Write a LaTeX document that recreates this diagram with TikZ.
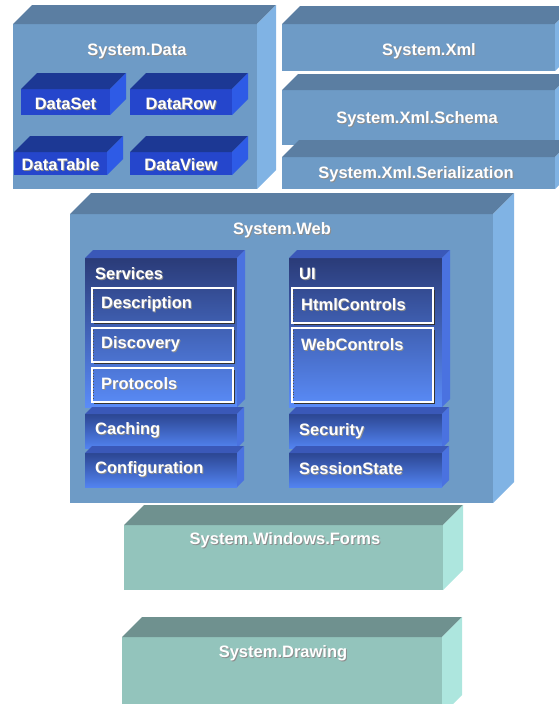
\documentclass[tikz,border=0pt]{standalone}
\usepackage{fontspec}
\setmainfont{Liberation Sans}

\definecolor{slate}{HTML}{6E9BC6}
\definecolor{slatetop}{HTML}{5B7EA2}
\definecolor{slateside}{HTML}{80B3E4}
\definecolor{royal}{HTML}{2546CC}
\definecolor{royaltop}{HTML}{1C3894}
\definecolor{royalside}{HTML}{2E5BE6}
\definecolor{navy}{HTML}{2A3B78}
\definecolor{sky}{HTML}{5A8CF8}
\definecolor{midblue}{HTML}{3A58B8}
\definecolor{sideblue}{HTML}{4A72E0}
\definecolor{barblue}{HTML}{2C4692}
\definecolor{barsky}{HTML}{5283F0}
\definecolor{seafront}{HTML}{93C4BC}
\definecolor{seatop}{HTML}{6F918F}
\definecolor{seaside}{HTML}{ADE6DE}

% 3D slab: front x1,y1,x2,y2 (pixels), depth, front style, top colour, side colour
\newcommand{\slab}[8]{%
  \path[#6] (#1,#2) rectangle (#3,#4);
  \fill[#7] (#1,#2) -- (#3,#2) -- (#3+#5,#2-#5) -- (#1+#5,#2-#5) -- cycle;
  \fill[#8] (#3,#2) -- (#3+#5,#2-#5) -- (#3+#5,#4-#5) -- (#3,#4) -- cycle;
}
% white framed sub-box with a dark shadow and dotted left edge
\newcommand{\subbox}[4]{%
  \draw[black!80,line width=1.2pt] (#1+2,#4+1.5) -- (#3+1.5,#4+1.5) -- (#3+1.5,#2+2);
  \draw[white,line width=1.6pt] (#1,#2) rectangle (#3,#4);
  \draw[black!70,dotted,line width=0.8pt] (#1+1.6,#2+2) -- (#1+1.6,#4-2);
}
% text with a soft drop shadow
\newcommand{\shd}[1]{\makebox[0pt][l]{\kern1pt\raisebox{-1pt}{\color{black!45}#1}}#1}

\tikzset{
  lbl/.style={text=white,inner sep=0pt,yshift=-2pt,font=\bfseries\fontsize{16.5}{18}\selectfont},
  lbll/.style={lbl,anchor=west}
}

\begin{document}
\begin{tikzpicture}[x=1pt,y=-1pt]
\useasboundingbox (0,0) rectangle (559,704);
\clip (0,0) rectangle (559,704);

% System.Data
\slab{13}{24}{257}{189}{19}{fill=slate}{slatetop}{slateside}
\node[lbl] (sysdata) at (137,50) {\shd{System.Data}};
\foreach \xa/\ya/\xb/\yb/\nm/\txt in {21/89/110/115/dset/DataSet,130/89/232/115/drow/DataRow,
    14/152/107/175/dtable/DataTable,130/152/232/175/dview/DataView} {
  \slab{\xa}{\ya}{\xb}{\yb}{16}{fill=royal}{royaltop}{royalside}
  \node[lbl] (\nm) at ({(\xa+\xb)/2},{(\ya+\yb)/2}) {\shd{\txt}};
}

% System.Xml stack
\slab{282}{24}{555}{71}{18}{fill=slate}{slatetop}{slateside}
\node[lbl] (sysxml) at (429,50) {\shd{System.Xml}};
\slab{282}{90}{555}{145}{16}{fill=slate}{slatetop}{slateside}
\node[lbl] (schema) at (417,118) {\shd{System.Xml.Schema}};
\slab{282}{157}{555}{189}{17}{fill=slate}{slatetop}{slateside}
\node[lbl] (serial) at (416,173) {\shd{System.Xml.Serialization}};

% System.Web
\slab{70}{214}{493}{503}{21}{fill=slate}{slatetop}{slateside}
\node[lbl] (sysweb) at (282,229) {\shd{System.Web}};

% Services and UI
\slab{85}{258}{237}{407}{8}{top color=navy,bottom color=sky}{midblue}{sideblue}
\node[lbll] (services) at (95,272) {\shd{Services}};
\subbox{92}{288}{233}{322}
\node[lbll] (descr) at (101,303) {\shd{Description}};
\subbox{92}{328}{233}{362}
\node[lbll] (discov) at (101,343) {\shd{Discovery}};
\subbox{92}{368}{233}{402}
\node[lbll] (protoc) at (101,382) {\shd{Protocols}};

\slab{289}{258}{442}{407}{8}{top color=navy,bottom color=sky}{midblue}{sideblue}
\node[lbll] (ui) at (299,272) {\shd{UI}};
\subbox{292}{288}{433}{323}
\node[lbll] (htmlc) at (301,303) {\shd{HtmlControls}};
\subbox{292}{328}{433}{402}
\node[lbll] (webc) at (301,343) {\shd{WebControls}};

% bars below
\slab{85}{414}{237}{448}{7}{top color=barblue,bottom color=barsky}{midblue}{sideblue}
\node[lbll] (caching) at (95,429) {\shd{Caching}};
\slab{85}{453}{237}{487}{7}{top color=barblue,bottom color=barsky}{midblue}{sideblue}
\node[lbll] (config) at (95,468) {\shd{Configuration}};
\slab{289}{414}{442}{448}{7}{top color=barblue,bottom color=barsky}{midblue}{sideblue}
\node[lbll] (security) at (299,430) {\shd{Security}};
\slab{289}{453}{442}{487}{7}{top color=barblue,bottom color=barsky}{midblue}{sideblue}
\node[lbll] (session) at (299,467) {\shd{SessionState}};

% Windows.Forms and Drawing
\slab{124}{525}{443}{590}{20}{fill=seafront}{seatop}{seaside}
\node[lbl] (forms) at (285,539) {\shd{System.Windows.Forms}};
\slab{122}{637}{442}{715}{20}{fill=seafront}{seatop}{seaside}
\node[lbl] (drawing) at (283,652) {\shd{System.Drawing}};
\end{tikzpicture}
\end{document}
